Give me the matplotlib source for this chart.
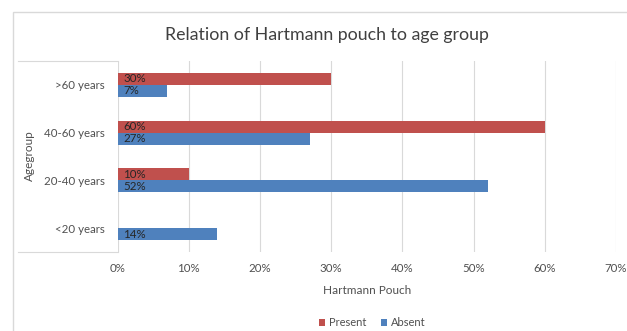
import matplotlib.pyplot as plt
import matplotlib.ticker as mticker
from matplotlib.patches import Rectangle
from matplotlib.lines import Line2D
import numpy as np

# age groups, bottom to top
groups = ['<20 years', '20-40 years', '40-60 years', '>60 years']
present = [0, 10, 60, 30]
absent = [14, 52, 27, 7]

red = '#C0504D'
blue = '#4F81BD'
grid_col = '#D9D9D9'
text_col = '#505050'

plt.rcParams['font.family'] = ['Lato', 'DejaVu Sans']

fig = plt.figure(figsize=(6.27, 3.31), dpi=100)
W, H = 627, 331

def fx(px):
    return px / W

def fy(py):
    return 1 - py / H

ax = fig.add_axes([fx(117.5), fy(252), fx(616) - fx(117.5), fy(61) - fy(252)])

y = np.arange(len(groups))
h = 0.25
ax.barh(y + h / 2, present, height=h, color=red, label='Present')
ax.barh(y - h / 2, absent, height=h, color=blue, label='Absent')

# value labels at the bar base
for i in range(len(groups)):
    if present[i] > 0:
        ax.text(0.8, y[i] + h / 2, '%d%%' % present[i], va='center', ha='left',
                fontsize=8.3, color='#262626')
    ax.text(0.8, y[i] - h / 2, '%d%%' % absent[i], va='center', ha='left',
            fontsize=8.3, color='#262626')

ax.set_xlim(0, 70)
ax.set_ylim(-0.5, len(groups) - 0.5)
ax.set_xticks(np.arange(0, 71, 10))
ax.xaxis.set_major_formatter(mticker.FuncFormatter(lambda v, p: '%d%%' % v))
ax.set_yticks(y)
ax.set_yticklabels(groups)
ax.tick_params(axis='both', length=0, labelsize=8.3, labelcolor=text_col)
ax.tick_params(axis='x', pad=8)
ax.tick_params(axis='y', pad=9)
ax.grid(axis='x', color=grid_col, linewidth=0.8)
ax.set_axisbelow(True)
for s in ax.spines.values():
    s.set_visible(False)

ax.set_xlabel('Hartmann Pouch', fontsize=8.5, color=text_col, labelpad=8)
fig.text(fx(29), fy(156), 'Agegroup', rotation=90, ha='center', va='center',
         fontsize=8.5, color=text_col)

fig.text(fx(327), fy(35), 'Relation of Hartmann pouch to age group',
         ha='center', va='center', fontsize=12.8, color='#404040')

# chart border and plot area edges
fig.patches.append(Rectangle((fx(12.5), -0.1), 1.0, fy(11.7) + 0.1,
                             transform=fig.transFigure, fill=False,
                             edgecolor=grid_col, linewidth=1))
for py in (61, 252):
    fig.lines.append(Line2D([fx(18), fx(117.5)], [fy(py), fy(py)],
                            transform=fig.transFigure, color=grid_col, linewidth=0.8))

fig.legend(loc='center', bbox_to_anchor=(fx(372), fy(323)), ncol=2, frameon=False,
           fontsize=8, handlelength=0.6, handleheight=0.6, handletextpad=0.3,
           columnspacing=1.3, labelcolor=text_col)

fig.savefig('out.png', dpi=100)
